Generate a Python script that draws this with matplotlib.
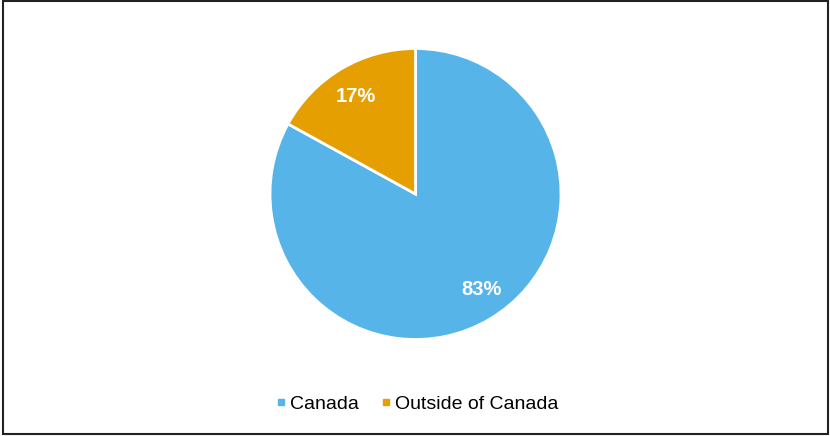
import matplotlib
matplotlib.use("Agg")
import matplotlib.pyplot as plt
from matplotlib.lines import Line2D
from matplotlib.patches import Rectangle

plt.rcParams["font.family"] = ["Liberation Sans", "DejaVu Sans"]

labels = ["Canada", "Outside of Canada"]
shares = [83, 17]
colors = ["#56B4E9", "#E69F00"]

W, H = 830, 436
fig = plt.figure(figsize=(W / 100, H / 100), dpi=100)

# pie: centre (415.5, 194) px, radius 145.5 px
cx, cy, r = 415.5, 194, 145.5
ax = fig.add_axes([(cx - r) / W, (H - cy - r) / H, 2 * r / W, 2 * r / H])
wedges, texts, autotexts = ax.pie(
    shares, colors=colors, startangle=90, counterclock=False, radius=1,
    autopct="%d%%", pctdistance=0.80,
    wedgeprops=dict(edgecolor="white", linewidth=2),
    textprops=dict(color="white", fontsize=14.5, fontweight="bold"))
# nudge labels a little, as in the original
x0, y0 = autotexts[0].get_position()
autotexts[0].set_position((x0 + 0.05, y0 + 0.03))
x1, y1 = autotexts[1].get_position()
autotexts[1].set_position((x1, y1 - 0.02))
ax.set_xlim(-1, 1); ax.set_ylim(-1, 1)
ax.axis("off")

handles = [Line2D([], [], marker="s", ls="", color=c, markersize=5) for c in colors]
fig.legend(handles, labels, loc="center", bbox_to_anchor=(416.5 / W, (H - 404) / H),
           ncol=2, frameon=False, fontsize=14, handlelength=0.6, handletextpad=0.15,
           columnspacing=1.1)

fig.patches.append(Rectangle((2.5 / W, 2.5 / H), (W - 5) / W, (H - 4) / H,
                             transform=fig.transFigure, fill=False,
                             edgecolor="#222222", linewidth=1.5))

fig.savefig("out.png", dpi=100)
